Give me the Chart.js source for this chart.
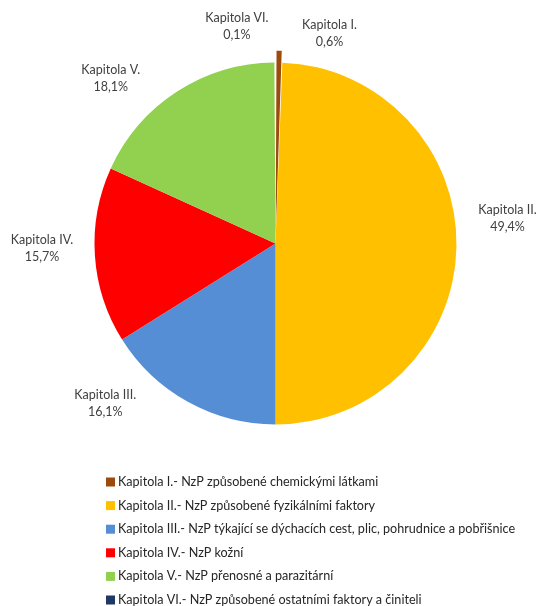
<!DOCTYPE html>
<html>
<head>
<meta charset="utf-8">
<script src="https://cdn.jsdelivr.net/npm/chart.js@4.4.0/dist/chart.umd.min.js"></script>
<style>
  html, body { margin: 0; padding: 0; background: #fff; }
  #wrap { width: 538px; height: 606px; }
</style>
</head>
<body>
<div id="wrap"><canvas id="pie"></canvas></div>
<script>
// data
const shortNames = ['Kapitola I.', 'Kapitola II.', 'Kapitola III.', 'Kapitola IV.', 'Kapitola V.', 'Kapitola VI.'];
const legendNames = [
  'Kapitola I.- NzP způsobené chemickými látkami',
  'Kapitola II.- NzP způsobené fyzikálními faktory',
  'Kapitola III.- NzP týkající se dýchacích cest, plic, pohrudnice a pobřišnice',
  'Kapitola IV.- NzP kožní',
  'Kapitola V.- NzP přenosné a parazitární',
  'Kapitola VI.- NzP způsobené ostatními faktory a činiteli'
];
const shares = [0.6, 49.4, 16.1, 15.7, 18.1, 0.1];

const colors = ['#9C4A0E', '#FFC000', '#558ED5', '#FF0000', '#92D050', '#1F3864'];
const offsets = [24, 0, 0, 0, 0, 44];

// nudges of label boxes away from the default spot (r + 30 along slice middle)
const labelNudge = [[50, 0], [21, -30], [-68, -25], [-23, -9], [-50, 12], [-38, -7]];

const FONT = 'Lato, "Noto Sans", sans-serif';

const sliceLabels = {
  id: 'sliceLabels',
  afterDatasetsDraw(chart) {
    const ctx = chart.ctx;
    const arcs = chart.getDatasetMeta(0).data;
    ctx.save();
    ctx.font = '12.5px ' + FONT;
    ctx.fillStyle = '#404040';
    ctx.textAlign = 'center';
    ctx.textBaseline = 'middle';
    arcs.forEach((arc, i) => {
      const mid = (arc.startAngle + arc.endAngle) / 2;
      const r = arc.outerRadius + 30;
      const x = arc.x + Math.cos(mid) * r + labelNudge[i][0];
      const y = arc.y + Math.sin(mid) * r + labelNudge[i][1];
      ctx.fillText(shortNames[i], x, y - 8);
      ctx.fillText(shares[i].toFixed(1).replace('.', ',') + '%', x, y + 9);
    });
    ctx.restore();
  }
};

const sideLegend = {
  id: 'sideLegend',
  afterDraw(chart) {
    const ctx = chart.ctx;
    ctx.save();
    ctx.font = '12.6px ' + FONT;
    ctx.textBaseline = 'middle';
    ctx.textAlign = 'left';
    legendNames.forEach((name, i) => {
      const y = 482 + i * 23.6;
      ctx.fillStyle = colors[i];
      ctx.fillRect(106, y - 4.5, 9, 9);
      ctx.fillStyle = '#262626';
      ctx.fillText(name, 118, y);
    });
    ctx.restore();
  }
};

new Chart(document.getElementById('pie'), {
  type: 'pie',
  data: {
    labels: legendNames,
    datasets: [{
      data: shares,
      backgroundColor: colors,
      borderWidth: 0,
      offset: offsets
    }]
  },
  options: {
    responsive: true,
    maintainAspectRatio: false,
    animation: false,
    radius: 181,
    layout: { padding: { left: 100, right: 87, top: 50, bottom: 169 } },
    plugins: {
      legend: { display: false },
      tooltip: { enabled: false }
    }
  },
  plugins: [sliceLabels, sideLegend]
});
</script>
</body>
</html>
